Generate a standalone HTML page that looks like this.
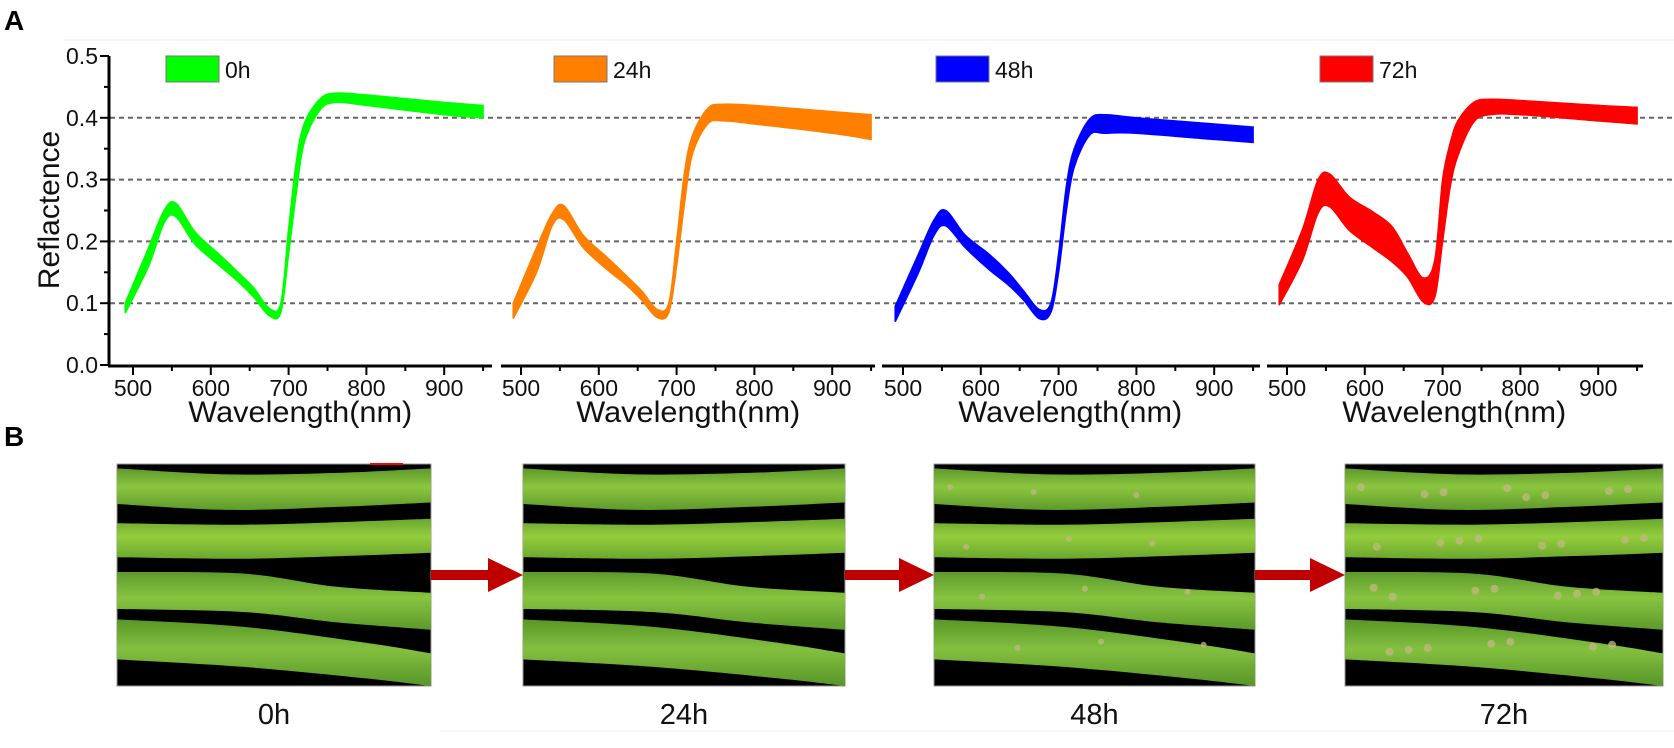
<!DOCTYPE html>
<html><head><meta charset="utf-8">
<style>
html,body{margin:0;padding:0;background:#fff;}
body{width:1674px;height:743px;overflow:hidden;font-family:"Liberation Sans",Arial,sans-serif;}
svg text{font-family:"Liberation Sans",Arial,sans-serif;}
</style></head>
<body>
<svg id="fig" width="1674" height="743" viewBox="0 0 1674 743" xmlns="http://www.w3.org/2000/svg">
<rect width="1674" height="743" fill="#fff"/>
<line x1="64" y1="40" x2="1674" y2="40" stroke="#eee" stroke-width="1"/>
<line x1="440" y1="731" x2="1674" y2="731" stroke="#eee" stroke-width="1"/>
<text x="4" y="30" font-size="28" font-weight="bold">A</text>
<text x="4" y="446" font-size="28" font-weight="bold">B</text>
<g id="charts"></g>
<g id="photos"></g>
</svg>
<script>
const wavelengths=[490,520,540,555,580,610,635,655,675,690,700,710,720,740,760,800,900,950];
const upper0h=[0.100,0.19,0.25,0.262,0.215,0.180,0.150,0.125,0.092,0.10,0.22,0.33,0.39,0.430,0.440,0.437,0.425,0.420];
const lower0h=[0.084,0.16,0.23,0.240,0.195,0.162,0.135,0.110,0.080,0.085,0.18,0.28,0.36,0.412,0.425,0.420,0.405,0.400];
const upper24h=[0.100,0.19,0.245,0.258,0.21,0.175,0.145,0.120,0.090,0.10,0.20,0.31,0.37,0.415,0.422,0.420,0.410,0.405];
const lower24h=[0.075,0.15,0.225,0.235,0.19,0.155,0.130,0.105,0.077,0.085,0.16,0.26,0.34,0.390,0.395,0.390,0.375,0.365];
const upper48h=[0.095,0.18,0.235,0.250,0.21,0.180,0.150,0.120,0.090,0.10,0.18,0.29,0.35,0.398,0.405,0.400,0.390,0.385];
const lower48h=[0.070,0.15,0.210,0.225,0.19,0.155,0.130,0.105,0.075,0.085,0.15,0.25,0.32,0.372,0.375,0.375,0.365,0.360];
const upper72h=[0.130,0.22,0.300,0.309,0.272,0.248,0.224,0.181,0.141,0.17,0.30,0.36,0.396,0.425,0.430,0.428,0.420,0.417];
const lower72h=[0.097,0.17,0.246,0.256,0.218,0.190,0.167,0.142,0.102,0.11,0.20,0.29,0.340,0.393,0.405,0.405,0.395,0.390];
const seriesLabels=["0h","24h","48h","72h"];
const seriesColors=["#00ff00","#ff8000","#0000ff","#ff0000"];
const yTicks=[0.0,0.1,0.2,0.3,0.4,0.5];
const xTicks=[500,600,700,800,900];
const uppers=[upper0h,upper24h,upper48h,upper72h];
const lowers=[lower0h,lower24h,lower48h,lower72h];

const NS="http://www.w3.org/2000/svg";
const x500=[133,521,903,1287];
const axStart=[108,501,882,1267], axEnd=[492,875,1260,1643];
const pxPerNm=0.778;
function yScale(v){return 365-v*618;}
function xScale(p,w){return x500[p]+(w-500)*pxPerNm;}
function mk(tag,attrs,parent){const e=document.createElementNS(NS,tag);for(const k in attrs)e.setAttribute(k,attrs[k]);parent.appendChild(e);return e;}
function smooth(pts){
  let d="M"+pts[0][0].toFixed(1)+","+pts[0][1].toFixed(1);
  for(let i=0;i<pts.length-1;i++){
    const p0=pts[Math.max(0,i-1)],p1=pts[i],p2=pts[i+1],p3=pts[Math.min(pts.length-1,i+2)];
    const c1=[p1[0]+(p2[0]-p0[0])/6,p1[1]+(p2[1]-p0[1])/6];
    const c2=[p2[0]-(p3[0]-p1[0])/6,p2[1]-(p3[1]-p1[1])/6];
    d+=" C"+c1[0].toFixed(1)+","+c1[1].toFixed(1)+" "+c2[0].toFixed(1)+","+c2[1].toFixed(1)+" "+p2[0].toFixed(1)+","+p2[1].toFixed(1);
  }
  return d;
}
const charts=document.getElementById("charts");
[0.1,0.2,0.3,0.4].forEach(v=>{
  const g=mk("line",{x1:110,x2:1674,y1:yScale(v),y2:yScale(v),stroke:"#666","stroke-width":2,"stroke-dasharray":"5,4"},charts);
  
  
});
const yax=mk("line",{x1:109,x2:109,y1:yScale(0.5),y2:yScale(0)+1,stroke:"#000","stroke-width":3},charts);


yTicks.forEach(v=>{
  mk("line",{x1:100,x2:109,y1:yScale(v),y2:yScale(v),stroke:"#000","stroke-width":2},charts);
  if(v<0.5) mk("line",{x1:104,x2:109,y1:yScale(v+0.05),y2:yScale(v+0.05),stroke:"#000","stroke-width":2},charts);
  const t=mk("text",{x:98,y:yScale(v)+8,"font-size":23,"text-anchor":"end",fill:"#111"},charts);
  t.textContent=v.toFixed(1);
  
  
});
const yt=mk("text",{x:0,y:0,"font-size":30,"text-anchor":"middle",fill:"#111",transform:"translate(59,210) rotate(-90)"},charts);
yt.textContent="Reflactence";



for(let p=0;p<4;p++){
  const ax=mk("line",{x1:axStart[p],x2:axEnd[p],y1:366,y2:366,stroke:"#000","stroke-width":3},charts);
  
  
  for(let w=500;w<=950;w+=50){
    mk("line",{x1:xScale(p,w),x2:xScale(p,w),y1:366,y2:w%100===0?375:371,stroke:"#000","stroke-width":2},charts);
  }
  xTicks.forEach(w=>{
    const t=mk("text",{x:xScale(p,w),y:396,"font-size":23,"text-anchor":"middle",fill:"#111"},charts);
    t.textContent=String(w);
    
    
  });
  const xt=mk("text",{x:xScale(p,715),y:422,"font-size":30,"text-anchor":"middle",fill:"#111",textLength:224,lengthAdjust:"spacingAndGlyphs"},charts);
  xt.textContent="Wavelength(nm)";
  
  
  const up=wavelengths.map((w,i)=>[xScale(p,w),yScale(uppers[p][i])]);
  const lo=wavelengths.map((w,i)=>[xScale(p,w),yScale(lowers[p][i])]).reverse();
  let d=smooth(up);
  d+=" L"+lo[0][0].toFixed(1)+","+lo[0][1].toFixed(1)+" "+smooth(lo).slice(1)+" Z";
  const band=mk("path",{d:d,fill:seriesColors[p],stroke:seriesColors[p],"stroke-width":1.5},charts);
  
  
  const lx=x500[p]+33;
  const lb=mk("rect",{x:lx,y:56,width:53,height:26,fill:seriesColors[p],stroke:"#777","stroke-width":1},charts);
  
  
  const lt=mk("text",{x:lx+59,y:78,"font-size":23,fill:"#111"},charts);
  lt.textContent=seriesLabels[p];
  
  
}

const photos=document.getElementById("photos");
const photoX=[117,523,934,1345], photoW=[314,322,321,318];
const leafShapes=[
 [[0,3,27],[0.35,7,31],[0.7,6,29],[1,3,26]],
 [[0,40,63],[0.4,41,64],[0.75,39,62],[1,37,60]],
 [[0,73,98],[0.4,74,100],[0.7,83,107],[1,87,112]],
 [[0,105,132],[0.4,110,137],[0.8,121,145],[1,128,150]]
];
const leafColors=[["#8cc63f","#5e9a2c"],["#94cc3c","#6aa82e"],["#88c440","#5c9a2c"],["#84c040","#589628"]];
for(let p=0;p<4;p++){
  const g=mk("g",{},photos);
  
  
  const x0=photoX[p],w=photoW[p],y0=464,h=222;
  const sc=h/150;
  mk("rect",{x:x0,y:y0,width:w,height:h,fill:"#000",stroke:"#999","stroke-width":1},g);
  const clipId="clip"+p;
  const cdefs=mk("defs",{},g);
  const cp=mk("clipPath",{id:clipId},cdefs);
  mk("rect",{x:x0,y:y0,width:w,height:h},cp);
  const inner=mk("g",{"clip-path":"url(#"+clipId+")"},g);
  leafShapes.forEach((ls,k)=>{
    const top=ls.map(s=>[x0+s[0]*w,y0+s[1]*sc]);
    const bot=ls.map(s=>[x0+s[0]*w,y0+s[2]*sc]).reverse();
    const gradId="lg"+p+"_"+k;
    const defs=mk("defs",{},inner);
    const lg=mk("linearGradient",{id:gradId,x1:0,y1:0,x2:0,y2:1},defs);
    mk("stop",{offset:"0","stop-color":leafColors[k][1]},lg);
    mk("stop",{offset:"0.45","stop-color":leafColors[k][0]},lg);
    mk("stop",{offset:"1","stop-color":leafColors[k][1]},lg);
    let d=smooth(top)+" L"+bot[0][0].toFixed(1)+","+bot[0][1].toFixed(1)+" "+smooth(bot).slice(1)+" Z";
    mk("path",{d:d,fill:"url(#"+gradId+")"},inner);
  });
  if(p>=2){
    const n=p===3?30:12;
    for(let s=0;s<n;s++){
      const k=s%4, ls=leafShapes[k];
      const fx=((s*37)%90+5)/100;
      const cy=y0+((ls[1][1]+ls[1][2])/2)*sc;
      mk("circle",{cx:x0+fx*w,cy:cy+((s*13)%11-5),r:p===3?4:3,fill:"#c0b880",opacity:0.75},inner);
    }
  }
  const lab=mk("text",{x:x0+w/2,y:724,"font-size":29,"text-anchor":"middle",fill:"#111"},photos);
  lab.textContent=seriesLabels[p];
  
  
  if(p<3){
    const ax=photoX[p]+photoW[p], bx=photoX[p+1];
    const ar=mk("path",{d:`M${ax},570 L${bx-35},570 L${bx-35},558 L${bx},575 L${bx-35},592 L${bx-35},580 L${ax},580 Z`,fill:"#c00000"},photos);
    
    
  }
}
mk("line",{x1:370,x2:403,y1:464,y2:464,stroke:"#f00","stroke-width":2},photos);
</script>
</body></html>
